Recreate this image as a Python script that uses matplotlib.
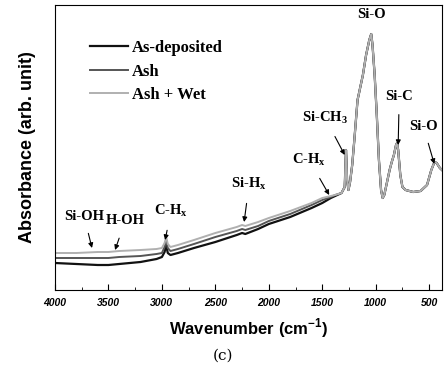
import matplotlib.pyplot as plt
import numpy as np

# wavenumbers (cm-1) and absorbance (arb.)
wn_low = [4000, 3800, 3600, 3500, 3400, 3200, 3050, 3000, 2975, 2960, 2945, 2920,
          2850, 2700, 2500, 2300, 2250, 2220, 2100, 2000, 1800, 1600, 1500, 1420, 1380]
wet_low = [37, 37, 38, 38, 39, 40, 41, 42, 47, 53, 46, 43,
           45, 50, 57, 63, 65, 64, 68, 72, 79, 87, 92, 94, 95]
ash_low = [32, 32, 32, 32, 33, 34, 36, 37, 43, 50, 42, 39,
           41, 46, 53, 59, 61, 60, 64, 69, 76, 85, 90, 93, 95]
asdep_low = [27, 26, 25, 25, 26, 28, 31, 33, 38, 45, 37, 35,
             37, 42, 48, 55, 57, 56, 61, 66, 73, 82, 87, 92, 94]

# region where the three spectra overlap
wn_high = [1320, 1290, 1278, 1268, 1255, 1240, 1220, 1200, 1170, 1150, 1120, 1090,
           1060, 1042, 1030, 1010, 990, 970, 950, 935, 920, 900, 870, 850, 830,
           810, 800, 790, 770, 750, 720, 650, 580, 520, 480, 450, 430, 400, 380]
abs_high = [97, 103, 140, 110, 100, 108, 125, 150, 190, 200, 215, 235,
            250, 256, 245, 215, 175, 130, 100, 92, 95, 105, 120, 128, 135,
            145, 147, 140, 115, 103, 100, 98, 99, 105, 120, 128, 127, 122, 120]

series = {
    "As-deposited": (asdep_low, "#111111", 1.6),
    "Ash": (ash_low, "#555555", 1.4),
    "Ash + Wet": (wet_low, "#b0b0b0", 1.4),
}

labels = [("Si-OH", 3654, 42, 85, 216), ("H-OH", 3438, 40, 126, 221),
          ("C-H$_\\mathregular{x}$", 2970, 50, 172, 211),
          ("Si-H$_\\mathregular{x}$", 2231, 68, 250, 184),
          ("C-H$_\\mathregular{x}$", 1435, 95, 310, 160),
          ("Si-CH$_\\mathregular{3}$", 1290, 135, 326, 118),
          ("Si-C", 790, 145, 400, 97), ("Si-O", 452, 126, 424, 126)]

fig = plt.figure(figsize=(4.47, 3.67), dpi=100)
ax = fig.add_axes([55 / 447, 77 / 367, 387 / 447, 285 / 367])

for name, (low, col, lw) in series.items():
    x = np.array(wn_low + wn_high)
    y = np.array(low + abs_high)
    ax.plot(x, y, color=col, lw=lw, label=name)

ax.set_xlim(4000, 380)
ax.set_ylim(0, 285)
ax.set_yticks([])
ax.set_xticks(np.arange(4000, 499, -500))
ax.set_xticks(np.arange(3750, 499, -500), minor=True)
ax.tick_params(axis="x", which="both", direction="in", length=4, labelsize=7.5, pad=6)
ax.tick_params(axis="x", which="minor", length=2.5)
for t in ax.get_xticklabels():
    t.set_fontweight("bold")
    t.set_fontfamily("Liberation Sans")
    t.set_style("italic")

ax.set_xlabel("Wavenumber (cm$^{\\mathregular{-1}}$)", fontsize=12, fontweight="bold",
              family="Liberation Sans", labelpad=6)
ax.set_ylabel("Absorbance (arb. unit)", fontsize=13, fontweight="bold",
              family="Liberation Sans", labelpad=14)

ax.legend(loc="upper left", bbox_to_anchor=((90 - 55) / 387, (290 - 40) / 285),
          frameon=False, borderpad=0, borderaxespad=0, handlelength=2.3,
          handletextpad=0.2, labelspacing=0.45,
          prop={"family": "Liberation Serif", "weight": "bold", "size": 12})

def px(xp, yp):
    wn = 4000 - (xp - 56) * 9.36
    return wn, 290 - yp

for txt, wx, wy, tx, ty in labels:
    ax.annotate(txt, xy=(wx, wy), xytext=px(tx, ty), ha="center", va="center",
                fontsize=10.5, fontweight="bold", family="Liberation Serif",
                arrowprops=dict(arrowstyle="-|>", color="black", lw=0.8,
                                mutation_scale=7, shrinkA=6, shrinkB=0))

ax.text(*px(372, 15), "Si-O", ha="center", va="center", fontsize=10.5,
        fontweight="bold", family="Liberation Serif")

fig.text(0.5, 1 - 356 / 367, "(c)", ha="center", va="center", fontsize=11,
         family="DejaVu Serif")

fig.savefig("out.png", dpi=100)
